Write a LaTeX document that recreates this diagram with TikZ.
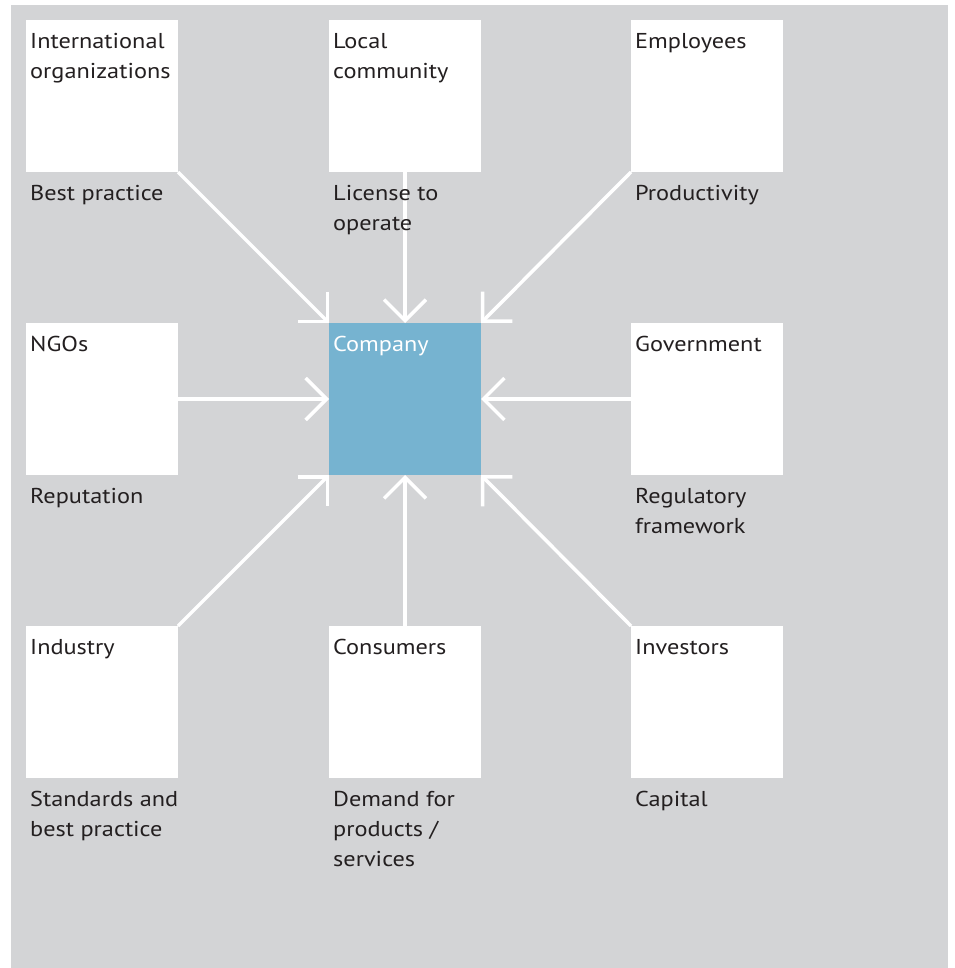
\documentclass[tikz,border=0pt]{standalone}
\usepackage{fontspec}
\setmainfont[FakeStretch=1.13]{PT Sans}
\usetikzlibrary{arrows.meta,calc}
\definecolor{bggray}{HTML}{D3D4D6}
\definecolor{coblue}{HTML}{76B3D0}
\definecolor{txt}{HTML}{231F20}
\newcommand{\mlines}[1]{\begin{tabular}[t]{@{}l@{}}#1\end{tabular}}
\begin{document}
\begin{tikzpicture}[x=1pt,y=-1pt,
  sbox/.style={fill=white, minimum width=152pt, minimum height=152pt, inner sep=0pt, outer sep=0pt, anchor=north west},
  cbox/.style={sbox, fill=coblue},
  ttl/.style={anchor=base west, inner sep=0pt, font=\fontsize{21.5}{30}\selectfont, text=txt},
  arr/.style={draw=white, line width=3.5pt, -{Straight Barb[length=21pt,width=42pt]}}
]
\fill[white] (0,0) rectangle (954,968);
\useasboundingbox (0,0) rectangle (954,968);
\fill[bggray] (11,5) rectangle (948,968);
% boxes
\node[sbox] (io) at (26,20) {};
\node[sbox] (lc) at (329,20) {};
\node[sbox] (em) at (631,20) {};
\node[sbox] (ng) at (26,323) {};
\node[cbox] (co) at (329,323) {};
\node[sbox] (go) at (631,323) {};
\node[sbox] (in) at (26,626) {};
\node[sbox] (cs) at (329,626) {};
\node[sbox] (iv) at (631,626) {};
% connectors
\draw[arr] (io.south east) -- (co.north west);
\draw[arr] (lc.south) -- (co.north);
\draw[arr] (em.south west) -- (co.north east);
\draw[arr] (ng.east) -- (co.west);
\draw[arr] (go.west) -- (co.east);
\draw[arr] (in.north east) -- (co.south west);
\draw[arr] (cs.north) -- (co.south);
\draw[arr] (iv.north west) -- (co.south east);
% titles
\node[ttl] (io-t) at ($(io.north west)+(4,28.5)$) {\mlines{International\\organizations}};
\node[ttl] (lc-t) at ($(lc.north west)+(4,28.5)$) {\mlines{Local\\community}};
\node[ttl] (em-t) at ($(em.north west)+(4,28.5)$) {Employees};
\node[ttl] (ng-t) at ($(ng.north west)+(4,28.5)$) {NGOs};
\node[ttl, text=white] (co-t) at ($(co.north west)+(4,28.5)$) {Company};
\node[ttl] (go-t) at ($(go.north west)+(4,28.5)$) {Government};
\node[ttl] (in-t) at ($(in.north west)+(4,28.5)$) {Industry};
\node[ttl] (cs-t) at ($(cs.north west)+(4,28.5)$) {Consumers};
\node[ttl] (iv-t) at ($(iv.north west)+(4,28.5)$) {Investors};
% sub-labels
\node[ttl] (io-s) at ($(io.south west)+(4,28.5)$) {Best practice};
\node[ttl] (lc-s) at ($(lc.south west)+(4,28.5)$) {\mlines{License to\\operate}};
\node[ttl] (em-s) at ($(em.south west)+(4,28.5)$) {Productivity};
\node[ttl] (ng-s) at ($(ng.south west)+(4,28.5)$) {Reputation};
\node[ttl] (go-s) at ($(go.south west)+(4,28.5)$) {\mlines{Regulatory\\framework}};
\node[ttl] (in-s) at ($(in.south west)+(4,28.5)$) {\mlines{Standards and\\best practice}};
\node[ttl] (cs-s) at ($(cs.south west)+(4,28.5)$) {\mlines{Demand for\\products /\\services}};
\node[ttl] (iv-s) at ($(iv.south west)+(4,28.5)$) {Capital};
\end{tikzpicture}
\end{document}
